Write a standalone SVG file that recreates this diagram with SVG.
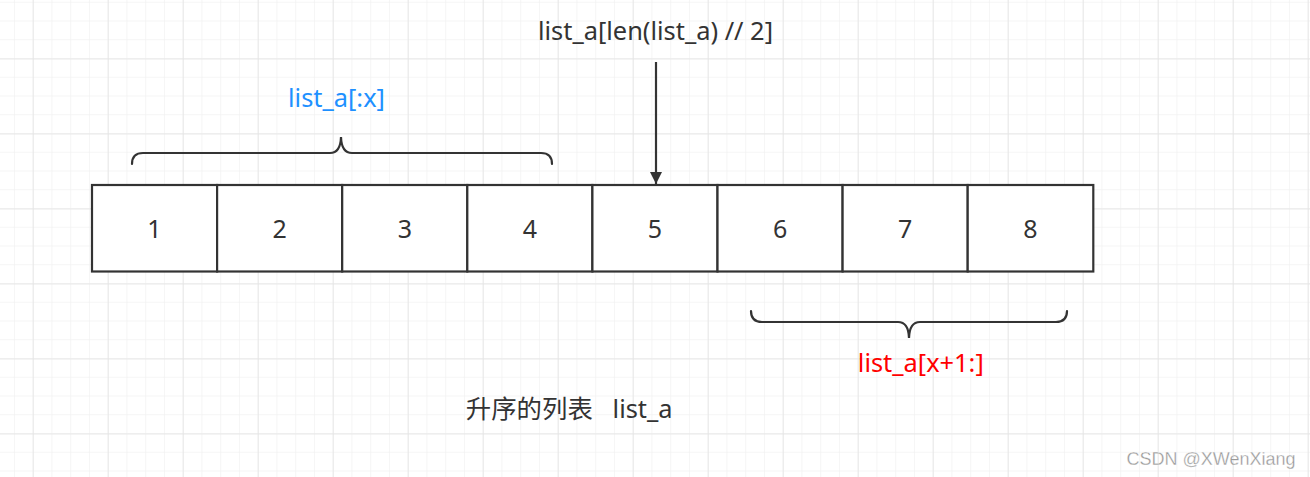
<svg xmlns="http://www.w3.org/2000/svg" width="1310" height="477" viewBox="0 0 1310 477">
  <defs>
    <pattern id="minor" patternUnits="userSpaceOnUse" x="13.95" y="1.75" width="18.75" height="18.75">
      <path d="M0,0 V18.75 M0,0 H18.75" fill="none" stroke="#f2f2f2" stroke-width="1.5"/>
    </pattern>
    <pattern id="major" patternUnits="userSpaceOnUse" x="32.7" y="58.5" width="75" height="75">
      <path d="M0,0 V75 M0,0 H75" fill="none" stroke="#e3e3e3" stroke-width="1.5"/>
    </pattern>
    <marker id="arrow" viewBox="0 0 12 16" refX="12" refY="8" markerWidth="12" markerHeight="16" markerUnits="userSpaceOnUse" orient="auto">
      <path d="M0,2 L12,8 L0,14 Z" fill="#333"/>
    </marker>
  </defs>
  <style>
    .cell { fill: #ffffff; stroke: #333333; stroke-width: 2.2; }
    .num { font-family: "Noto Sans", "Liberation Sans", sans-serif; font-size: 25px; fill: #333333; text-anchor: middle; }
    .lbl { font-family: "Noto Sans", "Noto Sans CJK SC", sans-serif; font-size: 25.4px; text-anchor: middle; }
    .brace { fill: none; stroke: #333333; stroke-width: 2.2; stroke-linecap: round; }
    .conn { fill: none; stroke: #333333; stroke-width: 2.2; }
  </style>
  <rect width="1310" height="477" fill="#ffffff"/>
  <rect width="1310" height="477" fill="url(#minor)"/>
  <rect width="1310" height="477" fill="url(#major)"/>

  <g id="cells">
    <g id="cell1"><rect class="cell" x="92" y="185" width="125.1" height="86.5"/><text class="num" x="154.5" y="238">1</text></g>
    <g id="cell2"><rect class="cell" x="217.1" y="185" width="125.1" height="86.5"/><text class="num" x="279.7" y="238">2</text></g>
    <g id="cell3"><rect class="cell" x="342.2" y="185" width="125.1" height="86.5"/><text class="num" x="404.8" y="238">3</text></g>
    <g id="cell4"><rect class="cell" x="467.3" y="185" width="125.1" height="86.5"/><text class="num" x="529.9" y="238">4</text></g>
    <g id="cell5"><rect class="cell" x="592.4" y="185" width="125.1" height="86.5"/><text class="num" x="655" y="238">5</text></g>
    <g id="cell6"><rect class="cell" x="717.5" y="185" width="125.1" height="86.5"/><text class="num" x="780.1" y="238">6</text></g>
    <g id="cell7"><rect class="cell" x="842.6" y="185" width="125.1" height="86.5"/><text class="num" x="905.2" y="238">7</text></g>
    <g id="cell8"><rect class="cell" x="967.7" y="185" width="125.6" height="86.5"/><text class="num" x="1030.5" y="238">8</text></g>
  </g>

  <g id="connectors">
    <path class="conn" d="M656,62 V184" marker-end="url(#arrow)"/>
  </g>

  <g id="brace-left">
    <path class="brace" d="M132,164 Q132,153 143,153 L330,153 Q340.5,153 341,137 Q341.5,153 352,153 L541,153 Q552,153 552,164"/>
  </g>
  <g id="brace-right">
    <path class="brace" d="M751,311 Q751,322 762,322 L898,322 Q908.5,322 909,338 Q909.5,322 920,322 L1056,322 Q1067,322 1067,311"/>
  </g>

  <g id="label-mid"><text class="lbl" x="655.5" y="40" fill="#333333">list_a[len(list_a) // 2]</text></g>
  <g id="label-left"><text class="lbl" x="336.5" y="106.5" fill="#1E90FF" font-size="24.2">list_a[:x]</text></g>
  <g id="label-right"><text class="lbl" x="920.8" y="371.5" fill="#FF0000" font-size="26">list_a[x+1:]</text></g>
  <g id="label-title"><text class="lbl" x="569.2" y="418" fill="#333333" font-size="25" xml:space="preserve">升序的列表   list_a</text></g>

  <text x="1211" y="464.5" font-family="Liberation Sans, Arial, sans-serif" font-size="18" fill="#999999" stroke="#ffffff" stroke-width="0.3" text-anchor="middle">CSDN @XWenXiang</text>
</svg>
